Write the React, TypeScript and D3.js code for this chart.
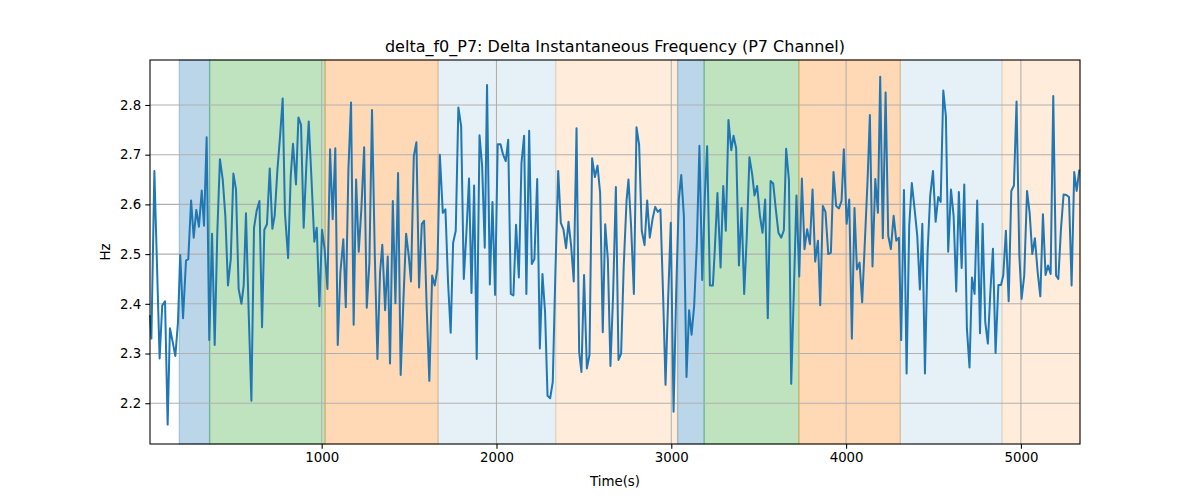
import React, { useEffect, useRef } from 'react';
import * as d3 from 'd3';

// sample times (s) and delta f0 values (Hz)
const times: number[] = [
  18, 26, 43, 58, 73, 88, 104, 119, 132, 148, 163, 178, 191, 207, 224, 237, 253, 268, 283, 298,
  314, 327, 342, 357, 373, 388, 403, 418, 434, 449, 464, 480, 495, 510, 525, 541, 554, 567, 583, 598,
  613, 628, 644, 659, 672, 687, 703, 718, 731, 747, 762, 777, 790, 808, 823, 836, 853, 867, 882, 897,
  913, 926, 941, 958, 972, 987, 1002, 1017, 1033, 1048, 1063, 1078, 1092, 1107, 1124, 1138, 1153, 1168, 1183, 1197,
  1212, 1227, 1243, 1258, 1273, 1288, 1304, 1319, 1334, 1347, 1363, 1378, 1391, 1407, 1422, 1437, 1452, 1468, 1483, 1498,
  1511, 1527, 1542, 1557, 1573, 1586, 1601, 1616, 1632, 1647, 1662, 1676, 1693, 1708, 1723, 1738, 1752, 1767, 1782, 1798,
  1813, 1828, 1843, 1857, 1872, 1887, 1903, 1918, 1933, 1946, 1962, 1977, 1992, 2007, 2023, 2038, 2053, 2067, 2082, 2097,
  2112, 2128, 2143, 2158, 2171, 2187, 2202, 2217, 2233, 2248, 2263, 2278, 2292, 2307, 2322, 2337, 2353, 2368, 2383, 2398,
  2412, 2427, 2442, 2458, 2473, 2486, 2501, 2517, 2532, 2547, 2563, 2578, 2593, 2608, 2622, 2637, 2652, 2667, 2683, 2698,
  2713, 2728, 2744, 2755, 2770, 2786, 2801, 2816, 2831, 2847, 2862, 2877, 2893, 2908, 2923, 2938, 2954, 2967, 2982, 2997,
  3013, 3028, 3043, 3057, 3072, 3087, 3102, 3116, 3131, 3146, 3161, 3177, 3192, 3205, 3221, 3238, 3249, 3264, 3282, 3297,
  3312, 3327, 3343, 3356, 3371, 3387, 3402, 3417, 3432, 3447, 3463, 3476, 3491, 3507, 3522, 3537, 3552, 3568, 3583, 3598,
  3613, 3629, 3644, 3657, 3673, 3686, 3701, 3716, 3732, 3747, 3762, 3777, 3793, 3808, 3823, 3839, 3852, 3867, 3882, 3898,
  3913, 3928, 3943, 3959, 3974, 3987, 4003, 4018, 4033, 4048, 4062, 4077, 4092, 4107, 4123, 4136, 4151, 4167, 4182, 4195,
  4210, 4226, 4241, 4256, 4272, 4287, 4302, 4315, 4331, 4346, 4361, 4376, 4392, 4407, 4422, 4436, 4451, 4466, 4481, 4497,
  4512, 4527, 4541, 4556, 4571, 4584, 4600, 4615, 4630, 4645, 4661, 4676, 4691, 4706, 4720, 4735, 4750, 4766, 4781, 4796,
  4811, 4825, 4840, 4855, 4871, 4886, 4899, 4914, 4930, 4945, 4960, 4975, 4991, 5004, 5019, 5035, 5050, 5065, 5080, 5096,
  5111, 5126, 5141, 5155, 5170, 5185, 5201, 5214, 5229, 5244, 5260, 5275, 5290, 5305, 5319, 5334,
];

const values: number[] = [
  2.377, 2.330, 2.667, 2.477, 2.290, 2.397, 2.405, 2.157, 2.351, 2.323, 2.295, 2.363, 2.498, 2.371, 2.487, 2.490, 2.608, 2.533, 2.589, 2.555,
  2.628, 2.557, 2.735, 2.327, 2.541, 2.317, 2.543, 2.691, 2.650, 2.577, 2.437, 2.490, 2.662, 2.630, 2.430, 2.400, 2.437, 2.582, 2.377, 2.205,
  2.553, 2.587, 2.607, 2.353, 2.549, 2.560, 2.672, 2.551, 2.577, 2.670, 2.737, 2.813, 2.583, 2.492, 2.657, 2.722, 2.640, 2.775, 2.760, 2.553,
  2.683, 2.767, 2.657, 2.525, 2.553, 2.395, 2.549, 2.510, 2.430, 2.711, 2.570, 2.713, 2.317, 2.463, 2.530, 2.393, 2.670, 2.805, 2.358, 2.650,
  2.505, 2.590, 2.715, 2.392, 2.483, 2.790, 2.497, 2.289, 2.463, 2.519, 2.387, 2.495, 2.280, 2.607, 2.401, 2.663, 2.257, 2.410, 2.541, 2.497,
  2.445, 2.697, 2.725, 2.433, 2.561, 2.567, 2.390, 2.245, 2.457, 2.437, 2.470, 2.700, 2.583, 2.590, 2.443, 2.342, 2.523, 2.547, 2.795, 2.757,
  2.450, 2.543, 2.652, 2.422, 2.638, 2.289, 2.739, 2.677, 2.513, 2.840, 2.439, 2.605, 2.418, 2.721, 2.721, 2.700, 2.687, 2.730, 2.420, 2.417,
  2.559, 2.453, 2.683, 2.738, 2.420, 2.748, 2.480, 2.490, 2.651, 2.310, 2.460, 2.383, 2.215, 2.210, 2.243, 2.463, 2.667, 2.563, 2.550, 2.512,
  2.565, 2.517, 2.445, 2.753, 2.303, 2.263, 2.458, 2.270, 2.297, 2.693, 2.655, 2.678, 2.623, 2.343, 2.560, 2.490, 2.275, 2.417, 2.635, 2.287,
  2.300, 2.477, 2.607, 2.650, 2.557, 2.420, 2.755, 2.720, 2.547, 2.518, 2.608, 2.533, 2.571, 2.595, 2.585, 2.590, 2.407, 2.237, 2.410, 2.563,
  2.183, 2.423, 2.610, 2.659, 2.577, 2.253, 2.387, 2.338, 2.397, 2.520, 2.718, 2.448, 2.617, 2.717, 2.437, 2.437, 2.510, 2.623, 2.473, 2.637,
  2.547, 2.770, 2.709, 2.738, 2.713, 2.477, 2.593, 2.420, 2.537, 2.695, 2.660, 2.618, 2.637, 2.577, 2.543, 2.610, 2.371, 2.647, 2.642, 2.590,
  2.543, 2.533, 2.548, 2.712, 2.649, 2.239, 2.423, 2.618, 2.455, 2.652, 2.510, 2.550, 2.520, 2.630, 2.485, 2.527, 2.397, 2.597, 2.585, 2.500,
  2.503, 2.665, 2.597, 2.592, 2.607, 2.711, 2.561, 2.610, 2.330, 2.593, 2.469, 2.483, 2.403, 2.523, 2.650, 2.780, 2.475, 2.651, 2.583, 2.857,
  2.532, 2.825, 2.537, 2.510, 2.577, 2.527, 2.533, 2.327, 2.629, 2.260, 2.557, 2.643, 2.590, 2.537, 2.429, 2.561, 2.260, 2.503, 2.617, 2.667,
  2.565, 2.615, 2.605, 2.829, 2.777, 2.505, 2.630, 2.577, 2.425, 2.625, 2.472, 2.640, 2.350, 2.272, 2.453, 2.420, 2.608, 2.341, 2.561, 2.363,
  2.320, 2.423, 2.511, 2.301, 2.438, 2.438, 2.457, 2.547, 2.405, 2.627, 2.638, 2.807, 2.497, 2.410, 2.457, 2.627, 2.583, 2.500, 2.532, 2.463,
  2.415, 2.580, 2.458, 2.477, 2.460, 2.818, 2.457, 2.450, 2.550, 2.620, 2.619, 2.615, 2.437, 2.665, 2.627, 2.670,
];

// shaded segments: start, end (s) and style
const bandStarts: number[] = [186, 359, 1020, 1666, 2339, 3036, 3188, 3730, 4310, 4892];
const bandEnds: number[] = [359, 1020, 1666, 2339, 3036, 3188, 3730, 4310, 4892, 5340];
const bandColors: string[] = [
  '#1f77b4', '#2ca02c', '#ff7f0e', '#1f77b4', '#ff7f0e',
  '#1f77b4', '#2ca02c', '#ff7f0e', '#1f77b4', '#ff7f0e',
];
const bandAlphas: number[] = [0.3, 0.3, 0.3, 0.11, 0.15, 0.3, 0.3, 0.3, 0.11, 0.15];

const xTicks: number[] = [1000, 2000, 3000, 4000, 5000];
const yTicks: number[] = [2.2, 2.3, 2.4, 2.5, 2.6, 2.7, 2.8];

const App: React.FC = () => {
  const svgRef = useRef<SVGSVGElement>(null);

  useEffect(() => {
    document.body.style.margin = '0';
    const svgEl = d3.select(svgRef.current);
    svgEl.selectAll('*').remove();

    const width = 1200;
    const height = 500;
    const margin = { top: 60, right: 120, bottom: 56, left: 150 };
    const w = width - margin.left - margin.right;
    const h = height - margin.top - margin.bottom;
    const font = 'DejaVu Sans, sans-serif';

    const svg = svgEl
      .attr('width', width)
      .attr('height', height)
      .style('background', '#ffffff')
      .append('g')
      .attr('transform', `translate(${margin.left},${margin.top})`);

    const x = d3.scaleLinear().domain([18, 5338]).range([0, w]);
    const y = d3.scaleLinear().domain([2.118, 2.8905]).range([h, 0]);

    // bands
    bandStarts.forEach((s, i) => {
      svg.append('rect')
        .attr('x', x(s))
        .attr('y', 0)
        .attr('width', x(Math.min(bandEnds[i], 5338)) - x(s))
        .attr('height', h)
        .attr('fill', bandColors[i])
        .attr('fill-opacity', bandAlphas[i])
        .attr('stroke', bandColors[i])
        .attr('stroke-opacity', bandAlphas[i])
        .attr('stroke-width', 1.3);
    });

    // grid
    svg.append('g')
      .selectAll('line')
      .data(xTicks)
      .join('line')
      .attr('x1', d => x(d)).attr('x2', d => x(d))
      .attr('y1', 0).attr('y2', h)
      .attr('stroke', '#b0b0b0').attr('stroke-width', 1.07);
    svg.append('g')
      .selectAll('line')
      .data(yTicks)
      .join('line')
      .attr('x1', 0).attr('x2', w)
      .attr('y1', d => y(d)).attr('y2', d => y(d))
      .attr('stroke', '#b0b0b0').attr('stroke-width', 1.07);

    // line
    const pts = times.map((t, i) => ({ t, v: values[i] }));
    svg.append('path')
      .datum(pts)
      .attr('fill', 'none')
      .attr('stroke', '#1f77b4')
      .attr('stroke-width', 2)
      .attr('stroke-linejoin', 'round')
      .attr('d', d3.line<{ t: number; v: number }>()
        .x(d => x(d.t))
        .y(d => y(d.v)));

    // frame
    svg.append('rect')
      .attr('width', w).attr('height', h)
      .attr('fill', 'none').attr('stroke', '#000').attr('stroke-width', 1.07);

    // axes
    const xAxis = svg.append('g')
      .attr('transform', `translate(0,${h})`)
      .call(d3.axisBottom(x).tickValues(xTicks).tickSize(4.7).tickPadding(4).tickFormat(d3.format('d')));
    const yAxis = svg.append('g')
      .call(d3.axisLeft(y).tickValues(yTicks).tickSize(4.7).tickPadding(4).tickFormat(d3.format('.1f')));
    [xAxis, yAxis].forEach(a => {
      a.select('.domain').remove();
      a.selectAll('line').attr('stroke', '#000').attr('stroke-width', 1.07);
      a.selectAll('text')
        .attr('fill', '#000')
        .style('font-family', font)
        .style('font-size', '13.33px');
    });

    svg.append('text')
      .attr('x', w / 2).attr('y', -8)
      .attr('text-anchor', 'middle')
      .style('font-family', font).style('font-size', '16px')
      .text('delta_f0_P7: Delta Instantaneous Frequency (P7 Channel)');

    svg.append('text')
      .attr('x', w / 2).attr('y', h + 42)
      .attr('text-anchor', 'middle')
      .style('font-family', font).style('font-size', '13.33px')
      .text('Time(s)');

    svg.append('text')
      .attr('transform', `translate(${-40},${h / 2}) rotate(-90)`)
      .attr('text-anchor', 'middle')
      .style('font-family', font).style('font-size', '13.33px')
      .text('Hz');
  }, []);

  return <svg ref={svgRef}></svg>;
};

export default App;
